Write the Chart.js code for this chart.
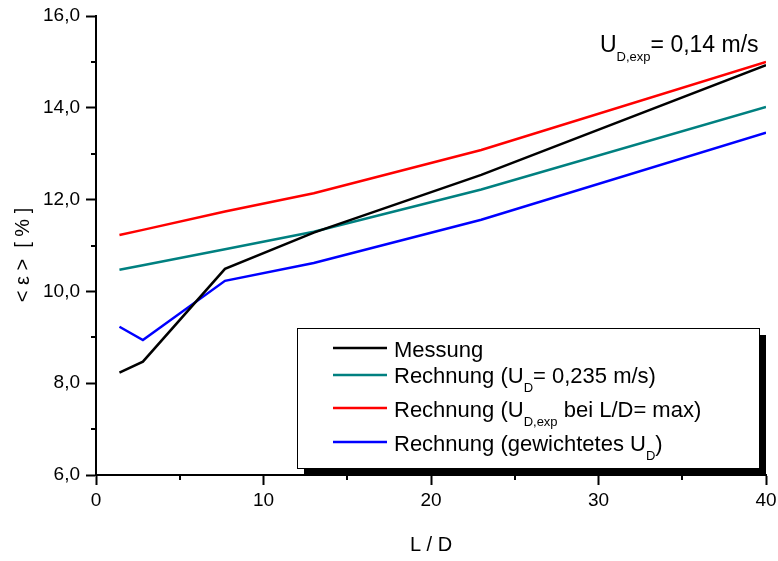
<!DOCTYPE html>
<html>
<head>
<meta charset="utf-8">
<script src="https://cdn.jsdelivr.net/npm/chart.js@4/dist/chart.umd.min.js"></script>
<style>
  html, body { margin: 0; padding: 0; background: #fff; }
  #wrap { width: 778px; height: 561px; }
</style>
</head>
<body>
<div id="wrap"><canvas id="chart" width="778" height="561"></canvas></div>
<script>
// ---------------------- Data ----------------------
const LD        = [1.4, 2.8, 7.7, 13, 23, 40];
const messung   = [8.23, 8.47, 10.49, 11.28, 12.54, 14.93];
const rechKonst = [10.47, 10.57, 10.92, 11.3, 12.22, 14.02];
const rechExp   = [11.23, 11.34, 11.74, 12.14, 13.08, 15.0];
const rechGew   = [9.23, 8.94, 10.23, 10.62, 11.56, 13.46];

const X_MINOR = [5, 15, 25, 35];
const Y_MINOR = [7, 9, 11, 13, 15];

// legend rows: [text, subscript?]
const LEGEND = [
  { color: '#000000', parts: [['Messung', false]] },
  { color: '#008080', parts: [['Rechnung (U', false], ['D', true], ['= 0,235 m/s)', false]] },
  { color: '#ff0000', parts: [['Rechnung (U', false], ['D,exp', true], [' bei L/D= max)', false]] },
  { color: '#0000ff', parts: [['Rechnung (gewichtetes U', false], ['D', true], [')', false]] },
];
const NOTE = [['U', false], ['D,exp', true], ['= 0,14 m/s', false]];
const Y_TITLE = '< ε >  [ % ]';

const FONT = "'Liberation Sans', Arial, sans-serif";
const toPts = (ys) => ys.map((y, i) => ({ x: LD[i], y }));

function series(label, ys, color) {
  return {
    label,
    data: toPts(ys),
    borderColor: color,
    backgroundColor: color,
    borderWidth: 2.5,
    pointRadius: 0,
    tension: 0,
  };
}

// draw a run of text with subscripts, returns end x
function drawParts(ctx, parts, x, y, size, subSize, subDrop) {
  parts.forEach(([t, sub]) => {
    ctx.font = `${sub ? subSize : size}px ${FONT}`;
    ctx.fillText(t, x, sub ? y + subDrop : y);
    x += ctx.measureText(t).width;
  });
  return x;
}

// ---------------------- Extras: minor ticks, legend, note ----------------------
const extras = {
  id: 'extras',
  afterDraw(chart) {
    const { ctx, scales: { x, y } } = chart;
    ctx.save();
    ctx.strokeStyle = '#000';
    ctx.lineWidth = 2;
    ctx.beginPath();
    Y_MINOR.forEach(v => {
      const py = Math.round(y.getPixelForValue(v));
      ctx.moveTo(x.left - 5, py);
      ctx.lineTo(x.left, py);
    });
    X_MINOR.forEach(v => {
      const px = Math.round(x.getPixelForValue(v));
      ctx.moveTo(px, y.bottom);
      ctx.lineTo(px, y.bottom + 5);
    });
    ctx.stroke();

    // y axis title (rotated)
    ctx.save();
    ctx.translate(23, 255);
    ctx.rotate(-Math.PI / 2);
    ctx.fillStyle = '#000';
    ctx.font = `20px ${FONT}`;
    ctx.textAlign = 'center';
    ctx.textBaseline = 'middle';
    ctx.fillText(Y_TITLE, 0, 0);
    ctx.restore();

    // legend box with shadow
    const bx = 297, by = 328, bw = 462, bh = 140;
    ctx.fillStyle = '#000';
    ctx.fillRect(bx + 7, by + 7, bw, bh);
    ctx.fillStyle = '#fff';
    ctx.fillRect(bx, by, bw, bh);
    ctx.strokeStyle = '#000';
    ctx.lineWidth = 1;
    ctx.strokeRect(bx + 0.5, by + 0.5, bw, bh);

    const lineY = [348, 375, 408, 442];
    const baseY = [357, 383, 417, 451];
    ctx.textBaseline = 'alphabetic';
    ctx.textAlign = 'left';
    LEGEND.forEach((row, i) => {
      ctx.strokeStyle = row.color;
      ctx.lineWidth = 2.5;
      ctx.beginPath();
      ctx.moveTo(333, lineY[i]);
      ctx.lineTo(387, lineY[i]);
      ctx.stroke();
      ctx.fillStyle = '#000';
      drawParts(ctx, row.parts, 394, baseY[i], 22, 13, 9);
    });

    // annotation top right
    ctx.fillStyle = '#000';
    drawParts(ctx, NOTE, 600, 52, 23, 13, 9);
    ctx.restore();
  },
};

// ---------------------- Chart ----------------------
new Chart(document.getElementById('chart'), {
  type: 'line',
  data: {
    datasets: [
      series('Messung', messung, '#000000'),
      series('Rechnung (U_D= 0,235 m/s)', rechKonst, '#008080'),
      series('Rechnung (U_D,exp bei L/D= max)', rechExp, '#ff0000'),
      series('Rechnung (gewichtetes U_D)', rechGew, '#0000ff'),
    ],
  },
  options: {
    responsive: false,
    animation: false,
    layout: { padding: { left: 0, top: 16, right: 12, bottom: 0 } },
    plugins: {
      legend: { display: false },
      tooltip: { enabled: false },
    },
    scales: {
      x: {
        type: 'linear',
        min: 0,
        max: 40,
        afterFit: (s) => { s.height = 86; s.paddingLeft = 0; s.paddingRight = 0; },
        ticks: {
          stepSize: 10,
          padding: 4,
          color: '#000',
          font: { family: FONT, size: 19 },
          maxRotation: 0,
        },
        grid: { drawOnChartArea: false, tickLength: 10, tickWidth: 2, tickColor: '#000' },
        border: { display: true, color: '#000', width: 2 },
        title: {
          display: true,
          text: 'L / D',
          color: '#000',
          font: { family: FONT, size: 20 },
          padding: { top: 0, bottom: 4 },
        },
      },
      y: {
        min: 6,
        max: 16,
        afterFit: (s) => { s.width = 96; s.paddingTop = 0; s.paddingBottom = 0; },
        ticks: {
          stepSize: 2,
          padding: 6,
          color: '#000',
          font: { family: FONT, size: 19 },
          callback: (v) => v.toFixed(1).replace('.', ','),
        },
        grid: { drawOnChartArea: false, tickLength: 10, tickWidth: 2, tickColor: '#000' },
        border: { display: true, color: '#000', width: 2 },
      },
    },
  },
  plugins: [extras],
});
</script>
</body>
</html>
